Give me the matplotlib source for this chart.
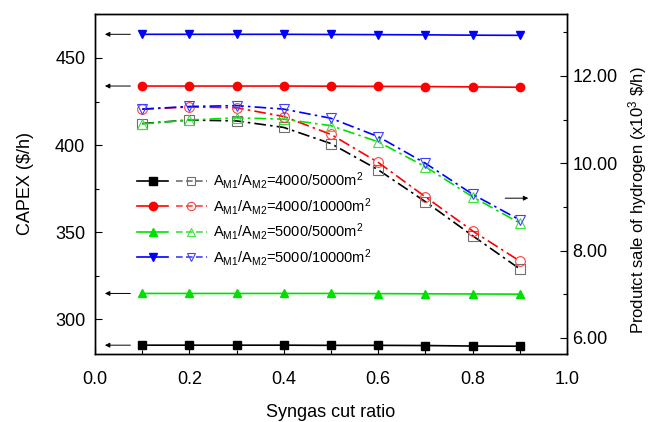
import matplotlib
matplotlib.use("Agg")
import matplotlib.pyplot as plt
from matplotlib.lines import Line2D
from matplotlib.legend_handler import HandlerTuple
from matplotlib.ticker import MultipleLocator, FormatStrFormatter

plt.rcParams['font.family'] = ['Liberation Sans', 'DejaVu Sans']
plt.rcParams['mathtext.fontset'] = 'custom'
plt.rcParams['mathtext.rm'] = 'Liberation Sans'
plt.rcParams['mathtext.it'] = 'Liberation Sans:italic'

x = [0.1, 0.2, 0.3, 0.4, 0.5, 0.6, 0.7, 0.8, 0.9]

# CAPEX (left axis)
capex_4000_5000 = [285.1, 285.1, 285.1, 285.1, 285.0, 285.0, 284.9, 284.6, 284.5]
capex_4000_10000 = [433.9, 433.9, 433.9, 433.9, 433.8, 433.7, 433.6, 433.4, 433.2]
capex_5000_5000 = [314.8, 314.8, 314.8, 314.8, 314.8, 314.7, 314.6, 314.5, 314.4]
capex_5000_10000 = [463.6, 463.6, 463.6, 463.6, 463.5, 463.4, 463.3, 463.1, 463.0]

# Product sale of hydrogen (right axis, x10^3 $/h)
sale_4000_5000 = [10.91, 10.99, 10.97, 10.82, 10.45, 9.85, 9.12, 8.34, 7.58]
sale_4000_10000 = [11.24, 11.29, 11.27, 11.07, 10.66, 10.02, 9.23, 8.45, 7.76]
sale_5000_5000 = [10.90, 10.99, 11.04, 11.01, 10.86, 10.49, 9.92, 9.23, 8.63]
sale_5000_10000 = [11.24, 11.30, 11.32, 11.24, 11.03, 10.61, 10.00, 9.29, 8.70]

labels = [r'A$_{\rm M1}$/A$_{\rm M2}$=4000/5000m$^2$',
          r'A$_{\rm M1}$/A$_{\rm M2}$=4000/10000m$^2$',
          r'A$_{\rm M1}$/A$_{\rm M2}$=5000/5000m$^2$',
          r'A$_{\rm M1}$/A$_{\rm M2}$=5000/10000m$^2$']

capex = [capex_4000_5000, capex_4000_10000, capex_5000_5000, capex_5000_10000]
sale = [sale_4000_5000, sale_4000_10000, sale_5000_5000, sale_5000_10000]
colors = ['#000000', '#ff0000', '#00e000', '#0000ff']
open_colors = ['#707070', '#ff4040', '#40e040', '#4040ff']
markers = ['s', 'o', '^', 'v']

fig = plt.figure(figsize=(6.48, 4.22), dpi=100)
ax1 = fig.add_axes([0.1466, 0.161, 0.7284, 0.806])
ax2 = ax1.twinx()

dashdot = (0, (7, 2.5, 1.5, 2.5))
handles = []
for c, oc, m, yl, yr in zip(colors, open_colors, markers, capex, sale):
    ax1.plot(x, yl, color=c, lw=1.2, marker=m, ms=6, mfc=c, mec=c, zorder=3)
    ax2.plot(x, yr, color=c, lw=1.2, ls=dashdot, marker=m, ms=7, mfc='none',
             mec=oc, mew=0.8, zorder=3)
    h1 = Line2D([], [], color=c, lw=1.2, marker=m, ms=6, mfc=c, mec=c)
    h2 = Line2D([], [], color=oc, lw=1.2, ls=(0, (4, 2)), marker=m, ms=6,
                mfc='none', mec=oc, mew=0.8)
    handles.append((h1, h2))

ax1.set_xlim(0.0, 1.0)
ax1.set_ylim(280, 475.3)
ax2.set_ylim(5.63, 13.42)

ax1.xaxis.set_major_locator(MultipleLocator(0.2))
ax1.xaxis.set_minor_locator(MultipleLocator(0.1))
ax1.xaxis.set_major_formatter(FormatStrFormatter('%.1f'))
ax1.yaxis.set_major_locator(MultipleLocator(50))
ax1.yaxis.set_minor_locator(MultipleLocator(25))
ax2.yaxis.set_major_locator(MultipleLocator(2))
ax2.yaxis.set_minor_locator(MultipleLocator(1))
ax2.yaxis.set_major_formatter(FormatStrFormatter('%.2f'))

for ax in (ax1, ax2):
    ax.tick_params(which='major', direction='in', length=5, width=0.8, labelsize=13)
    ax.tick_params(which='minor', direction='in', length=3, width=0.8)
    for s in ax.spines.values():
        s.set_linewidth(1.0)
ax1.tick_params(top=False, which='both')
ax1.tick_params(axis='y', which='major', pad=7)
ax1.tick_params(axis='x', which='major', pad=12)
ax2.tick_params(axis='y', which='major', pad=4)

ax1.set_xlabel('Syngas cut ratio', fontsize=13, labelpad=12)
ax1.set_ylabel('CAPEX ($/h)', fontsize=13, labelpad=15)
ax2.set_ylabel(r'Produtct sale of hydrogen (x10$^3$ \$/h)', fontsize=12)
ax2.yaxis.set_label_coords(1.149, 0.453)
ax2.yaxis.label.set_va('center')
ax2.yaxis.label.set_ha('center')

# arrows indicating axes
for yl in capex:
    ax1.annotate('', xy=(0.021, yl[0]), xytext=(0.075, yl[0]),
                 arrowprops=dict(arrowstyle='-|>', color='black', lw=0.7,
                                 mutation_scale=7, shrinkA=0, shrinkB=0))
ax2.annotate('', xy=(0.918, 9.20), xytext=(0.869, 9.20),
             arrowprops=dict(arrowstyle='-|>', color='black', lw=0.7,
                             mutation_scale=7, shrinkA=0, shrinkB=0))

leg = ax1.legend(handles, labels, handler_map={tuple: HandlerTuple(ndivide=None, pad=0.5)},
                 loc='upper left', bbox_to_anchor=(0.089, 0.54), frameon=False,
                 borderaxespad=0, borderpad=0,
                 fontsize=10.5, handlelength=4.8, labelspacing=0.3, handletextpad=0.4)
ax1.set_zorder(ax2.get_zorder() + 1)
ax1.patch.set_visible(False)

fig.savefig('out.png', dpi=100)
